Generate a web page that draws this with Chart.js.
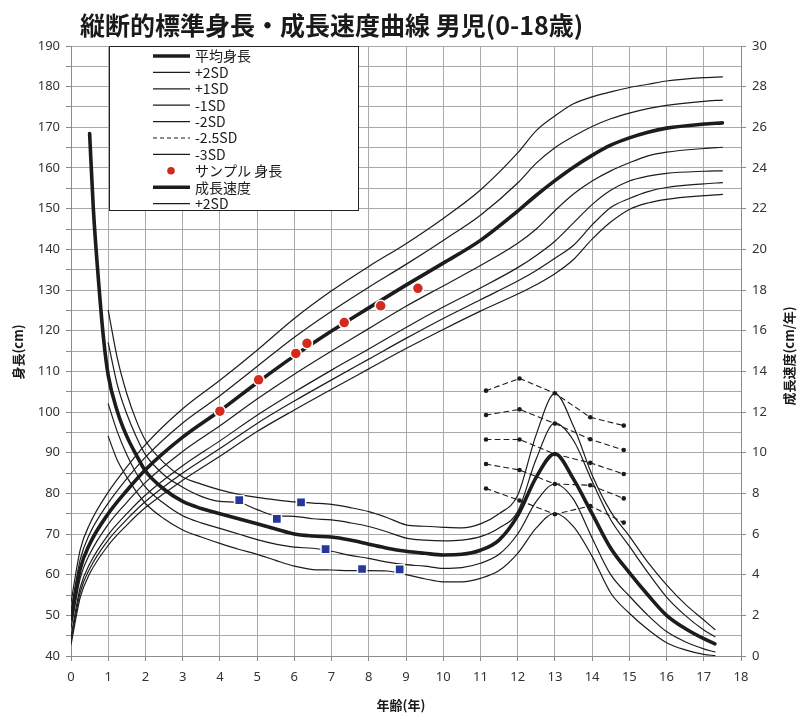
<!DOCTYPE html>
<html><head><meta charset="utf-8">
<script src="https://cdn.jsdelivr.net/npm/chart.js@4.4.1/dist/chart.umd.min.js"></script>
<style>html,body{margin:0;padding:0;background:#fff;}#wrap{width:797px;height:719px;position:relative;}</style>
</head><body><div id="wrap"><canvas id="c" width="797" height="719"></canvas></div>
<script>
// ---------- text ----------
const chartTitle = '縦断的標準身長・成長速度曲線 男児(0-18歳)';
const xTitle = '年齢(年)';
const yTitle = '身長(cm)';
const y2Title = '成長速度(cm/年)';
const legendLabels = ['平均身長', '+2SD', '+1SD', '-1SD', '-2SD', '-2.5SD', '-3SD', 'サンプル 身長', '成長速度', '+2SD'];
const legendKinds  = ['thick', 'thin', 'thin', 'thin', 'thin', 'dash', 'thin', 'dot', 'thick', 'thin'];

// ---------- height curves (cm, left axis) ----------
const heightAges = [0, 0.25, 0.5, 1, 1.5, 2, 3, 4, 5, 6, 7, 8, 9, 10, 11, 12, 12.5, 13, 13.5, 14, 14.5, 15, 15.5, 16, 17, 17.5];
const hMean = [49.0, 61.5, 67.5, 75.0, 80.7, 85.8, 93.8, 100.3, 107.2, 113.8, 119.9, 125.6, 131.2, 136.6, 142.2, 149.4, 153.3, 156.9, 160.2, 163.1, 165.6, 167.4, 168.8, 169.8, 170.8, 171.1];
const hP2 = [53.2, 66.2, 72.4, 80.3, 86.5, 92.0, 100.8, 107.8, 115.2, 123.0, 129.8, 135.8, 141.4, 147.6, 154.6, 163.7, 169.2, 172.8, 175.8, 177.5, 178.7, 179.8, 180.6, 181.4, 182.2, 182.4];
const hP1 = [51.1, 63.8, 70.0, 77.6, 83.6, 88.9, 97.3, 104.0, 111.2, 118.4, 124.8, 130.7, 136.3, 142.2, 148.4, 156.3, 161.2, 165.0, 167.8, 170.2, 172.1, 173.5, 174.6, 175.4, 176.4, 176.7];
const hM1 = [46.9, 59.2, 65.0, 72.4, 77.8, 82.7, 90.3, 96.6, 103.2, 109.3, 115.0, 120.5, 126.0, 131.0, 136.0, 141.5, 145.0, 149.5, 153.6, 156.8, 159.3, 161.3, 163.0, 163.9, 164.8, 165.1];
const hM2 = [44.8, 56.9, 62.6, 69.8, 75.0, 79.6, 86.8, 92.9, 99.2, 104.9, 110.3, 115.5, 120.8, 125.8, 130.5, 135.5, 138.5, 142.0, 146.5, 151.0, 154.5, 156.8, 158.0, 158.7, 159.2, 159.3];
const hM25 = [43.8, 55.7, 61.4, 68.5, 73.6, 78.0, 85.0, 91.0, 97.2, 102.7, 107.9, 113.0, 118.1, 123.0, 127.6, 132.2, 134.8, 137.8, 141.0, 146.0, 150.3, 152.5, 154.2, 155.2, 156.1, 156.4];
const hM3 = [42.8, 54.5, 60.2, 67.2, 72.2, 76.5, 83.2, 89.1, 95.2, 100.5, 105.6, 110.6, 115.6, 120.3, 124.8, 129.0, 131.3, 134.0, 137.5, 142.5, 146.7, 149.8, 151.4, 152.3, 153.2, 153.5];

// sample heights
const sampleAges = [4.0, 5.04, 6.04, 6.34, 7.34, 8.32, 9.32];
const sampleHeights = [100.2, 107.9, 114.4, 116.9, 122.0, 126.1, 130.4];

// ---------- velocity curves (cm/年, right axis) ----------
const velAges = [0.5, 0.6, 0.75, 0.875, 1, 1.25, 1.5, 1.75, 2, 2.5, 3, 3.5, 4, 4.5, 5, 5.5, 6, 6.5, 7, 7.5, 8, 8.5, 9, 9.5, 10, 10.5, 11, 11.5, 12, 12.5, 13, 13.5, 14, 14.5, 15, 15.5, 16, 16.5, 17, 17.3];
const vMean = [25.7, 22.0, 18.2, 15.6, 13.8, 12.0, 10.8, 9.9, 9.1, 8.2, 7.6, 7.25, 7.0, 6.75, 6.5, 6.25, 6.0, 5.9, 5.85, 5.7, 5.5, 5.3, 5.15, 5.05, 4.97, 5.0, 5.2, 5.7, 6.9, 8.8, 9.95, 8.7, 7.0, 5.3, 4.1, 3.0, 2.0, 1.35, 0.85, 0.6];
const vP2 = [null, null, null, null, 17.0, 14.6, 12.9, 11.6, 10.6, 9.5, 8.8, 8.45, 8.17, 7.95, 7.8, 7.68, 7.58, 7.52, 7.46, 7.3, 7.1, 6.8, 6.45, 6.38, 6.33, 6.3, 6.5, 7.0, 7.9, 10.9, 12.9, 11.3, 8.9, 7.1, 5.9, 4.6, 3.5, 2.55, 1.77, 1.3];
const vP1 = [null, null, null, null, 15.4, 13.3, 11.9, 10.8, 9.9, 8.9, 8.3, 7.85, 7.6, 7.55, 7.2, 6.9, 6.87, 6.75, 6.69, 6.55, 6.37, 6.1, 5.8, 5.7, 5.66, 5.7, 5.87, 6.3, 7.1, 9.7, 11.45, 10.6, 8.6, 6.7, 5.4, 4.1, 2.9, 2.0, 1.28, 0.95];
const vM1 = [null, null, null, null, 12.4, 11.0, 9.9, 9.0, 8.3, 7.5, 6.9, 6.55, 6.28, 6.0, 5.72, 5.5, 5.35, 5.3, 5.15, 4.95, 4.8, 4.62, 4.49, 4.42, 4.31, 4.35, 4.56, 5.0, 6.0, 7.6, 8.46, 7.7, 5.8, 4.0, 2.95, 2.0, 1.2, 0.7, 0.35, 0.2];
const vM2 = [null, null, null, null, 10.8, 9.6, 8.8, 8.1, 7.5, 6.75, 6.2, 5.85, 5.54, 5.25, 5.0, 4.7, 4.42, 4.25, 4.23, 4.2, 4.2, 4.18, 4.0, 3.8, 3.65, 3.65, 3.82, 4.2, 5.05, 6.3, 7.02, 6.36, 4.9, 3.1, 2.1, 1.3, 0.65, 0.3, 0.08, 0.02];

// dashed puberty-timing lines
const dashAges = [11.15, 12.05, 13.0, 13.95, 14.85];
const dash1 = [13.05, 13.65, 12.92, 11.74, 11.33];
const dash2 = [11.85, 12.13, 11.43, 10.66, 10.13];
const dash3 = [10.65, 10.65, 9.93, 9.5, 8.95];
const dash4 = [9.44, 9.15, 8.46, 8.4, 7.75];
const dash5 = [8.24, 7.65, 6.97, 7.38, 6.56];

// sample velocities
const sampleVelAges = [4.52, 5.53, 6.18, 6.84, 7.82, 8.83];
const sampleVel = [7.67, 6.74, 7.56, 5.26, 4.28, 4.26];

// ---------- build ----------
const INK = '#1c1c1c';
const toXY = (xs, ys) => xs.map((x, i) => ({x: x, y: ys[i]})).filter(p => p.y !== null);
function lineDS(label, xs, ys, axis, width, extra) {
  return Object.assign({
    label: label, data: toXY(xs, ys), yAxisID: axis, showLine: true,
    borderColor: INK, backgroundColor: INK, borderWidth: width,
    pointRadius: 0, pointHoverRadius: 0, fill: false,
    cubicInterpolationMode: 'monotone', order: 5
  }, extra || {});
}
const datasets = [
  lineDS('平均身長', heightAges, hMean, 'y', 3.6),
  lineDS('+2SD', heightAges, hP2, 'y', 1.2),
  lineDS('+1SD', heightAges, hP1, 'y', 1.2),
  lineDS('-1SD', heightAges, hM1, 'y', 1.2),
  lineDS('-2SD', heightAges, hM2, 'y', 1.2),
  lineDS('-2.5SD', heightAges, hM25, 'y', 1.2),
  lineDS('-3SD', heightAges, hM3, 'y', 1.2),
  lineDS('成長速度', velAges, vMean, 'y2', 3.6),
  lineDS('成長速度 +2SD', velAges, vP2, 'y2', 1.2),
  lineDS('成長速度 +1SD', velAges, vP1, 'y2', 1.2),
  lineDS('成長速度 -1SD', velAges, vM1, 'y2', 1.2),
  lineDS('成長速度 -2SD', velAges, vM2, 'y2', 1.2)
];
[dash1, dash2, dash3, dash4, dash5].forEach((d, i) => {
  datasets.push(lineDS('dash' + (i + 1), dashAges, d, 'y2', 1.1, {
    borderDash: [5, 4], cubicInterpolationMode: 'default', tension: 0,
    pointRadius: 2.3, pointBackgroundColor: INK, pointBorderColor: INK, pointBorderWidth: 0, order: 4
  }));
});
datasets.push({
  label: 'サンプル 身長', data: toXY(sampleAges, sampleHeights), yAxisID: 'y', showLine: false,
  pointStyle: 'circle', pointRadius: 5.5, backgroundColor: '#d42a1e', borderColor: '#ffffff', borderWidth: 1.5, order: 1
});
datasets.push({
  label: 'サンプル 速度', data: toXY(sampleVelAges, sampleVel), yAxisID: 'y2', showLine: false,
  pointStyle: 'rect', pointRadius: 6.5, backgroundColor: '#26379a', borderColor: '#ffffff', borderWidth: 1.5, order: 1
});

const GRID = '#a9a9a9';
const AXIS = '#8a8a8a';
const tickFont = {family: '"Noto Sans", "Liberation Sans", sans-serif', size: 13};

const decor = {
  id: 'decor',
  afterDraw(chart) {
    const ctx = chart.ctx;
    ctx.save();
    // title
    ctx.fillStyle = '#1a1a1a';
    ctx.font = 'bold 25px "Noto Sans CJK JP", sans-serif';
    ctx.textBaseline = 'middle';
    ctx.textAlign = 'left';
    ctx.fillText(chartTitle, 80, 25);
    // axis titles
    ctx.font = 'bold 13px "Noto Sans CJK JP", sans-serif';
    ctx.textAlign = 'center';
    ctx.fillText(xTitle, 401, 705);
    ctx.save(); ctx.translate(18, 352); ctx.rotate(-Math.PI / 2); ctx.fillText(yTitle, 0, 0); ctx.restore();
    ctx.save(); ctx.translate(789, 356); ctx.rotate(-Math.PI / 2); ctx.fillText(y2Title, 0, 0); ctx.restore();
    // legend box
    const bx = 109, by = 46, bw = 249, bh = 164;
    ctx.fillStyle = '#ffffff';
    ctx.fillRect(bx, by, bw, bh);
    ctx.strokeStyle = '#222';
    ctx.lineWidth = 1;
    ctx.strokeRect(bx + 0.5, by + 0.5, bw, bh);
    ctx.font = '14px "Noto Sans CJK JP", sans-serif';
    ctx.textAlign = 'left';
    ctx.textBaseline = 'middle';
    legendLabels.forEach((lab, i) => {
      const yy = 56 + i * 16.4;
      const k = legendKinds[i];
      ctx.strokeStyle = INK; ctx.fillStyle = INK;
      if (k === 'dot') {
        ctx.fillStyle = '#d42a1e';
        ctx.beginPath(); ctx.arc(171, yy, 3.8, 0, Math.PI * 2); ctx.fill();
      } else {
        ctx.lineWidth = k === 'thick' ? 3.4 : 1.2;
        ctx.setLineDash(k === 'dash' ? [4, 3] : []);
        ctx.beginPath(); ctx.moveTo(153, yy); ctx.lineTo(190, yy); ctx.stroke();
        ctx.setLineDash([]);
      }
      ctx.fillStyle = '#1a1a1a';
      ctx.fillText(lab, 195, yy);
    });
    ctx.restore();
  }
};

new Chart(document.getElementById('c'), {
  type: 'scatter',
  data: {datasets: datasets},
  options: {
    responsive: false, animation: false, devicePixelRatio: 1,
    layout: {padding: {top: 46, left: 0, right: 0, bottom: 0}},
    plugins: {legend: {display: false}, tooltip: {enabled: false}, title: {display: false}},
    elements: {line: {borderCapStyle: 'round', borderJoinStyle: 'round'}},
    scales: {
      x: {
        type: 'linear', min: 0, max: 18,
        ticks: {stepSize: 1, color: '#333', font: tickFont, padding: 8, maxRotation: 0},
        grid: {color: GRID, lineWidth: 1, tickLength: 5, tickColor: AXIS},
        border: {color: AXIS, width: 1},
        afterFit(s) { s.height = 63; }
      },
      y: {
        type: 'linear', position: 'left', min: 40, max: 190,
        ticks: {stepSize: 5, color: '#333', font: tickFont, padding: 6,
          callback: v => (v % 10 === 0 ? String(v) : '')},
        grid: {color: GRID, lineWidth: 1, tickLength: 5, tickColor: AXIS},
        border: {color: AXIS, width: 1},
        afterFit(s) { s.width = 71; }
      },
      y2: {
        type: 'linear', position: 'right', min: 0, max: 30,
        ticks: {stepSize: 2, color: '#333', font: tickFont, padding: 6},
        grid: {drawOnChartArea: false, tickLength: 5, tickColor: AXIS},
        border: {color: AXIS, width: 1},
        afterFit(s) { s.width = 56; }
      }
    }
  },
  plugins: [decor]
});
</script>
</body></html>
